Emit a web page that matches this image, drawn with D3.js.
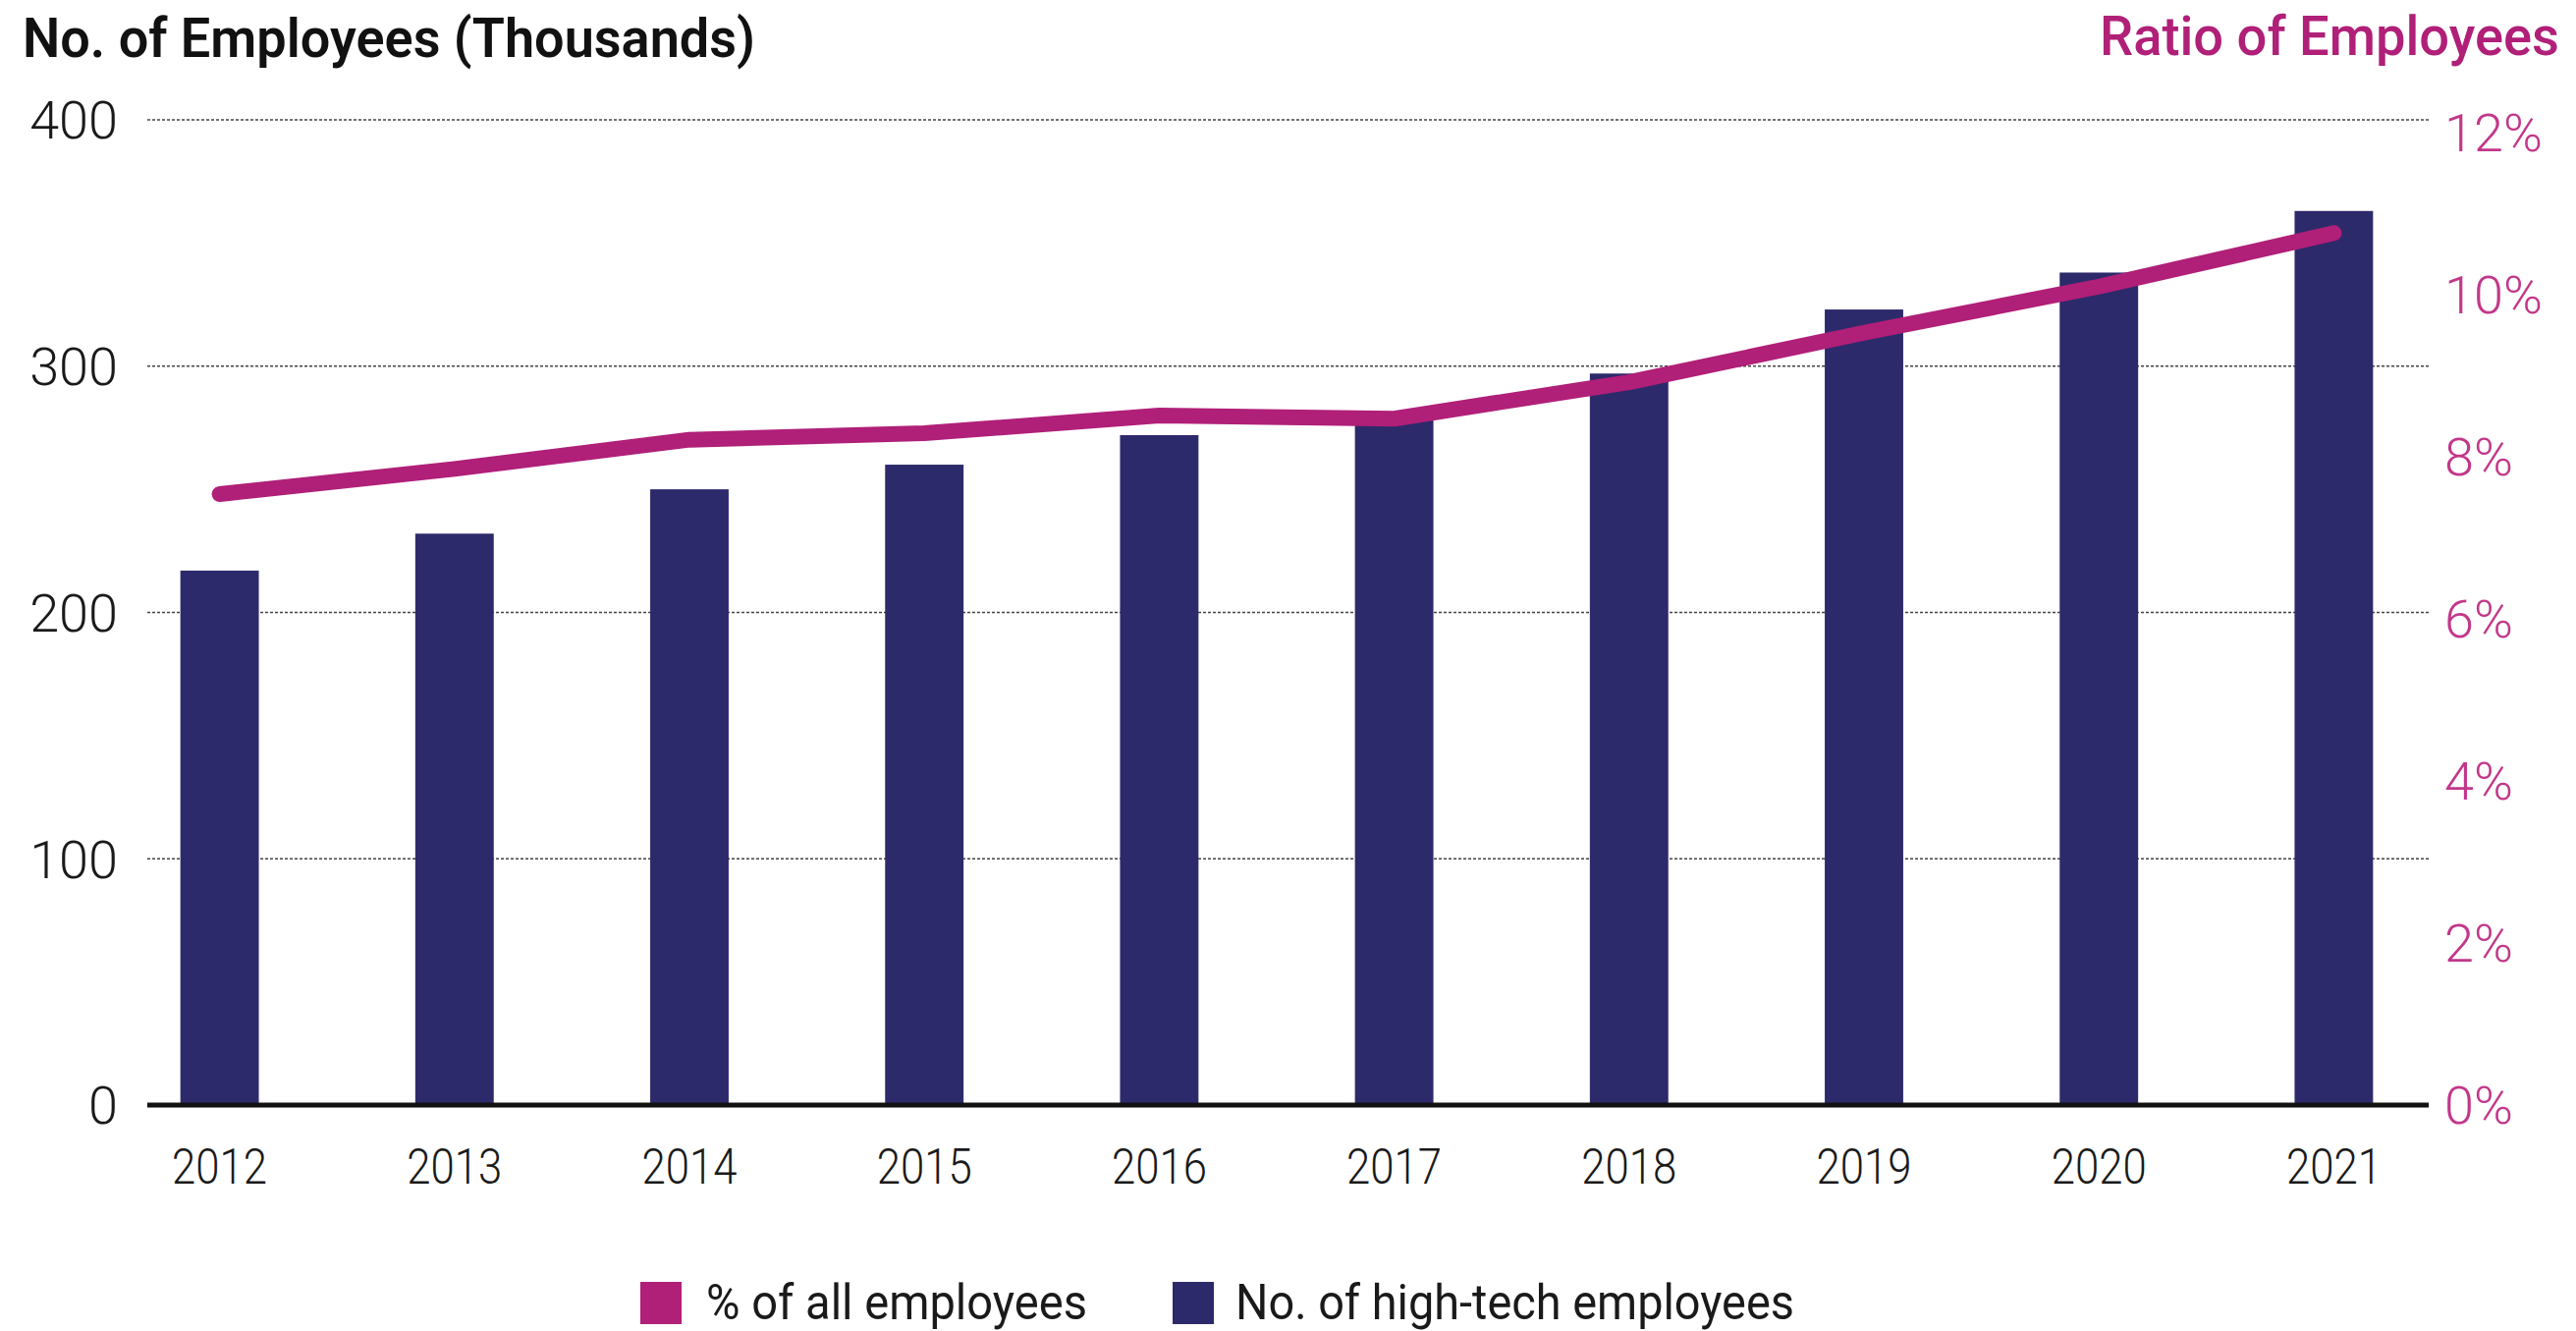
<!DOCTYPE html>
<html><head><meta charset="utf-8">
<script src="https://cdn.jsdelivr.net/npm/d3@7"></script>
<style>
html,body{margin:0;padding:0;background:#fff;}
svg{display:block;}
text{font-family:"Liberation Sans Narrow","Roboto","DejaVu Sans",sans-serif;}
</style></head>
<body>
<svg id="chart" width="2623" height="1355"></svg>
<script>
const years = ["2012","2013","2014","2015","2016","2017","2018","2019","2020","2021"];
const employees = [217, 232, 250, 260, 272, 281, 297, 323, 338, 363];
const ratio = [7.54, 7.85, 8.21, 8.29, 8.51, 8.47, 8.92, 9.53, 10.1, 10.76];
const leftTicks = [0, 100, 200, 300, 400];
const rightTicks = [0, 2, 4, 6, 8, 10, 12];
const legendLabels = ["% of all employees", "No. of high-tech employees"];

const navy = "#2d2a6b", magenta = "#b01f78", magentaLight = "#c2378a";
const svg = d3.select("#chart");

const x = d3.scaleBand().domain(years).range([104, 2496]).paddingInner(0.666).paddingOuter(0.333);
const yL = d3.scaleLinear().domain([0, 400]).range([1125, 122]);
const yR = d3.scaleLinear().domain([0, 12]).range([1125, 135]);

// gridlines
svg.append("g").selectAll("line").data(leftTicks.filter(d => d > 0)).join("line")
  .attr("x1", 150).attr("x2", 2473)
  .attr("y1", d => yL(d)).attr("y2", d => yL(d))
  .attr("stroke", "#444").attr("stroke-width", 1.3).attr("stroke-dasharray", "3,2");

// left tick labels
svg.append("g").selectAll("text").data(leftTicks).join("text")
  .attr("x", 120).attr("y", d => yL(d)).attr("dy", "0.36em")
  .attr("text-anchor", "end").attr("font-size", 54).attr("fill", "#1a1a1a")
  .style("font-family", "Roboto, 'Open Sans', sans-serif").attr("font-weight", 300)
  .text(d => d);

// right tick labels
svg.append("g").selectAll("text").data(rightTicks).join("text")
  .attr("x", 2489).attr("y", d => yR(d)).attr("dy", "0.36em")
  .attr("text-anchor", "start").attr("font-size", 54).attr("fill", magentaLight)
  .style("font-family", "Roboto, 'Open Sans', sans-serif").attr("font-weight", 300)
  .text(d => d + "%");

// bars
svg.append("g").selectAll("rect").data(years).join("rect")
  .attr("x", d => x(d)).attr("width", x.bandwidth())
  .attr("y", (d, i) => yL(employees[i]))
  .attr("height", (d, i) => yL(0) - yL(employees[i]))
  .attr("fill", navy);

// baseline
svg.append("line").attr("x1", 150).attr("x2", 2473)
  .attr("y1", yL(0)).attr("y2", yL(0))
  .attr("stroke", "#111").attr("stroke-width", 5);

// line
const line = d3.line().x((d, i) => x(years[i]) + x.bandwidth() / 2).y(d => yR(d)).curve(d3.curveLinear);
svg.append("path").datum(ratio).attr("d", line)
  .attr("fill", "none").attr("stroke", magenta).attr("stroke-width", 16)
  .attr("stroke-linecap", "round").attr("stroke-linejoin", "round");

// x labels
svg.append("g").selectAll("text").data(years).join("text")
  .attr("x", d => x(d) + x.bandwidth() / 2).attr("y", 1205)
  .attr("text-anchor", "middle").attr("font-size", 50).attr("fill", "#1a1a1a")
  .attr("textLength", 97).attr("lengthAdjust", "spacingAndGlyphs")
  .style("font-family", "Roboto, 'Open Sans', sans-serif").attr("font-weight", 300)
  .text(d => d);

// titles
svg.append("text").attr("x", 23).attr("y", 58).attr("font-size", 56).attr("font-weight", 600)
  .attr("fill", "#111").attr("textLength", 746).attr("lengthAdjust", "spacingAndGlyphs")
  .text("No. of Employees (Thousands)");
svg.append("text").attr("x", 2606).attr("y", 56).attr("text-anchor", "end").attr("font-size", 56)
  .attr("font-weight", 500).attr("fill", magenta)
  .attr("textLength", 468).attr("lengthAdjust", "spacingAndGlyphs")
  .text("Ratio of Employees");

// legend
const legX = [652, 1194], legTextX = [719, 1258], legW = [388, 569], legC = [magenta, navy];
const leg = svg.append("g");
leg.selectAll("rect").data(legendLabels).join("rect")
  .attr("x", (d, i) => legX[i]).attr("y", 1305).attr("width", 42).attr("height", 43)
  .attr("fill", (d, i) => legC[i]);
leg.selectAll("text").data(legendLabels).join("text")
  .attr("x", (d, i) => legTextX[i]).attr("y", 1343).attr("font-size", 50).attr("fill", "#1a1a1a")
  .attr("textLength", (d, i) => legW[i]).attr("lengthAdjust", "spacingAndGlyphs")
  .text(d => d);
</script>
</body></html>
